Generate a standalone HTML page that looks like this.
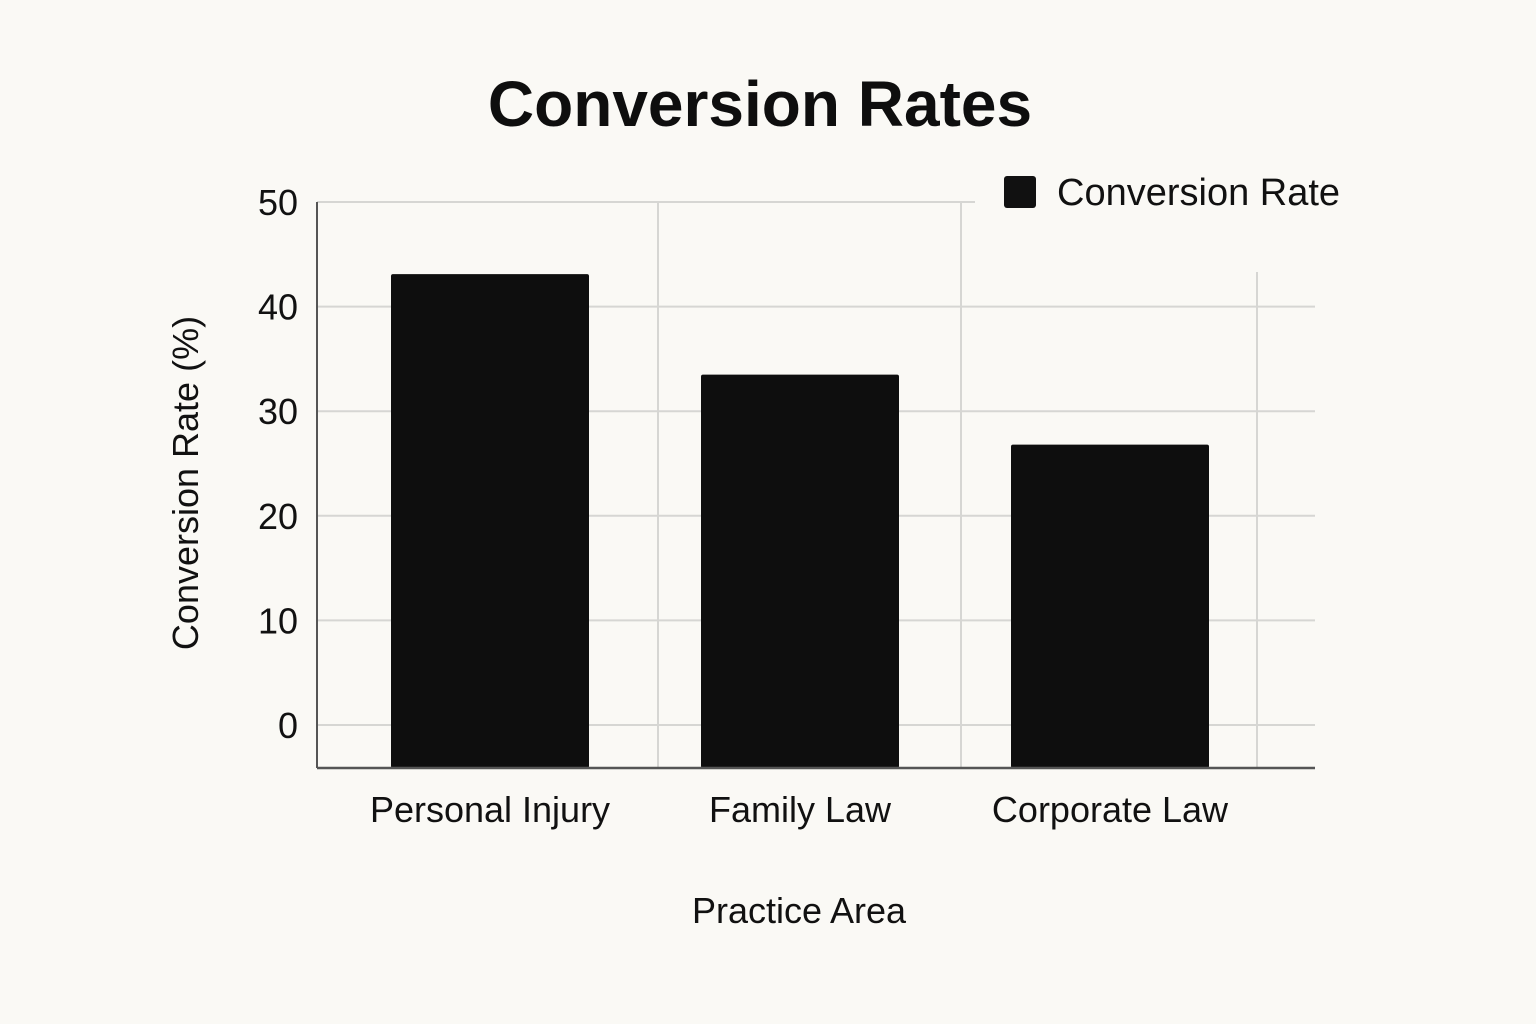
<!DOCTYPE html>
<html><head><meta charset="utf-8"><style>
html,body{margin:0;padding:0;background:#faf9f5;}
svg{display:block;font-family:"Liberation Sans",sans-serif;}
</style></head><body>
<svg id="chart" width="1536" height="1024" viewBox="0 0 1536 1024">
<rect width="1536" height="1024" fill="#faf9f5"/>
<text x="760" y="126" text-anchor="middle" font-size="64" font-weight="bold" fill="#0e0e0e">Conversion Rates</text>
<g id="grid"></g>
<g id="bars"></g>
<g id="axes">
<line x1="317" y1="202" x2="317" y2="768" stroke="#555" stroke-width="2"/>
<line x1="317" y1="768" x2="1315" y2="768" stroke="#555" stroke-width="2.5"/>
</g>
<g id="yticks"></g>
<g id="xticks"></g>
<text transform="translate(198,483) rotate(-90)" text-anchor="middle" font-size="36" fill="#111">Conversion Rate (%)</text>
<text x="799" y="923" text-anchor="middle" font-size="36" fill="#111">Practice Area</text>
<g>
<rect x="1004" y="176" width="32" height="32" rx="3" fill="#111"/>
<text x="1057" y="205" font-size="38" fill="#111">Conversion Rate</text>
</g>
</svg>
<script>
const categories = ["Personal Injury", "Family Law", "Corporate Law"];
const values = [43.1, 33.5, 26.8];
const yTicks = [0, 10, 20, 30, 40, 50];
const NS = "http://www.w3.org/2000/svg";
function y(v){ return 725 - v * (725 - 202) / 50; }
function xc(i){ return 490 + i * 310; }
const barW = 198;
function mk(tag, attrs, parent){
  const el = document.createElementNS(NS, tag);
  for (const k in attrs) el.setAttribute(k, attrs[k]);
  parent.appendChild(el);
  return el;
}
const grid = document.getElementById("grid");
const bars = document.getElementById("bars");
const yt = document.getElementById("yticks");
const xt = document.getElementById("xticks");
yTicks.forEach(function(t){
  const x2 = t === 50 ? 975 : 1315;
  const l = mk("line", {x1: 317, y1: y(t), x2: x2, y2: y(t), stroke: "#d6d6d3", "stroke-width": 2}, grid);
  
  
  const tx = mk("text", {x: 298, y: y(t) + 13, "text-anchor": "end", "font-size": 36, fill: "#111"}, yt);
  tx.textContent = t;
  
  
});
[658, 961].forEach(function(gx){
  const l = mk("line", {x1: gx, y1: 202, x2: gx, y2: 768, stroke: "#d6d6d3", "stroke-width": 2}, grid);
  
  
});
const l3 = mk("line", {x1: 1257, y1: 272, x2: 1257, y2: 768, stroke: "#d6d6d3", "stroke-width": 2}, grid);


categories.forEach(function(c, i){
  const top = y(values[i]);
  const b = mk("rect", {x: xc(i) - barW/2, y: top, width: barW, height: 768 - top, rx: 2, fill: "#0e0e0e"}, bars);
  
  
  const tx = mk("text", {x: xc(i), y: 822, "text-anchor": "middle", "font-size": 36, fill: "#111"}, xt);
  tx.textContent = c;
  
  
});
</script>
</body></html>
